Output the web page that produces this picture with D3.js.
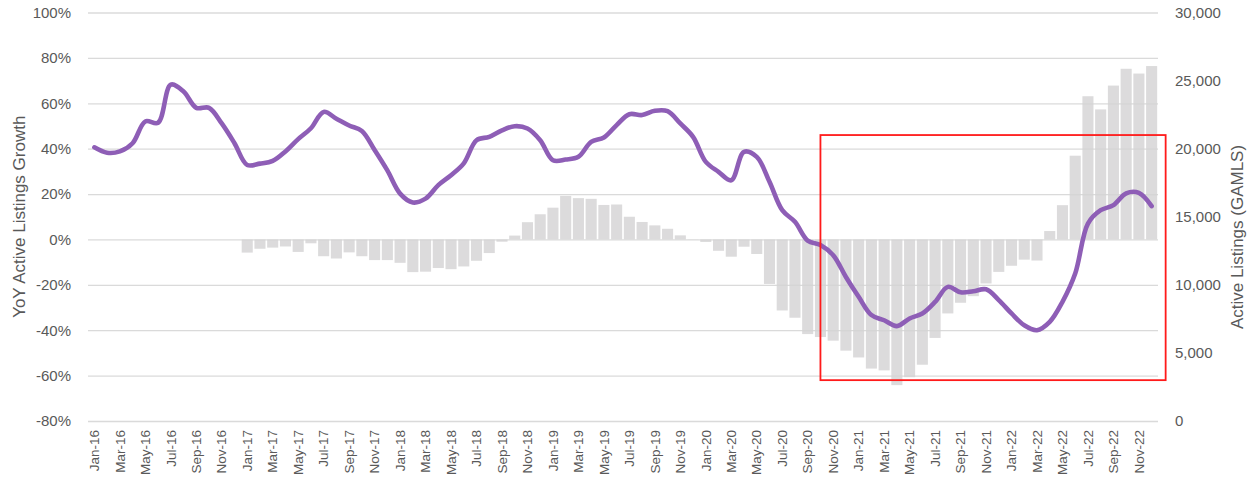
<!DOCTYPE html>
<html>
<head>
<meta charset="utf-8">
<script src="https://cdn.jsdelivr.net/npm/d3@7"></script>
<style>
  html, body { margin: 0; padding: 0; background: #fff; }
  svg text { font-family: "Liberation Sans", Arial, sans-serif; fill: #595959; }
</style>
</head>
<body>
<svg id="chart" width="1248" height="478"></svg>
<script>
// Monthly categories, Jan-16 .. Dec-22
const monthNames = ["Jan","Feb","Mar","Apr","May","Jun","Jul","Aug","Sep","Oct","Nov","Dec"];
const years = ["16","17","18","19","20","21","22"];
const months = years.flatMap(y => monthNames.map(m => `${m}-${y}`));

// Active listings (GAMLS), right axis
const activeListings = [
  20100, 19700, 19800, 20400, 22000, 21900, 24700, 24200, 23000, 23000, 21850, 20400,
  18800, 18900, 19100, 19800, 20700, 21500, 22700, 22200, 21700, 21300, 19900, 18400,
  16700, 16050, 16330, 17320, 18050, 18920, 20620, 20870, 21350, 21650, 21480, 20620,
  19150, 19200, 19400, 20500, 20820, 21730, 22530, 22470, 22780, 22750, 21850, 20870,
  19030, 18300, 17680, 19770, 19400, 17570, 15480, 14630, 13250, 12920, 12180, 10580,
  9120, 7780, 7400, 6970, 7530, 7900, 8750, 9850, 9450, 9530, 9670, 8880,
  7900, 7030, 6670, 7280, 8750, 10830, 14500, 15480, 15850, 16720, 16750, 15780
];

// YoY active listings growth (%), left axis, Jan-17 .. Dec-22
const yoyMonths = months.slice(12);
const yoyGrowth = [
  -5.8, -4.1, -3.6, -3.1, -5.5, -1.7, -7.4, -8.4, -5.7, -7.4, -9.1, -9.1,
  -10.3, -14.4, -14.2, -12.6, -13.1, -11.9, -9.4, -6.0, -1.0, 1.7, 7.6, 11.1,
  14.0, 19.2, 18.2, 17.9, 15.2, 15.4, 10.0, 7.7, 6.2, 4.7, 1.8, 0.1,
  -1.1, -5.0, -7.6, -3.2, -6.4, -19.6, -31.3, -34.5, -41.7, -43.0, -44.6, -49.0,
  -52.0, -56.9, -57.7, -64.2, -60.7, -55.2, -43.4, -32.6, -27.9, -25.0, -19.4, -14.3,
  -11.6, -8.9, -9.3, 3.7, 15.1, 36.9, 63.1, 57.3, 67.8, 75.2, 73.1, 76.4
];

// Axis ticks
const leftTicks = [-80, -60, -40, -20, 0, 20, 40, 60, 80, 100];
const rightTicks = [0, 5000, 10000, 15000, 20000, 25000, 30000];
const xTickLabels = months.filter((m, i) => i % 2 === 0);

// Highlighted period: Oct-20 through Dec-22, 3,000 to 21,000 listings
const highlightStart = "Oct-20";
const highlightEnd = "Dec-22";
const highlightRange = [3000, 21000];

const svg = d3.select("#chart");
const margin = { top: 12.5, right: 90, bottom: 57, left: 88 };
const W = 1248, H = 478;
const x0 = margin.left, x1 = W - margin.right;
const y0 = H - margin.bottom, y1 = margin.top;

const x = d3.scaleBand().domain(months).range([x0, x1]).paddingInner(0.13).paddingOuter(0.065);
const xc = d => x(d) + x.bandwidth() / 2;
const yL = d3.scaleLinear().domain([-80, 100]).range([y0, y1]);
const yR = d3.scaleLinear().domain([0, 30000]).range([y0, y1]);

// Bars
svg.append("g").selectAll("rect")
  .data(yoyMonths.map((m, i) => ({ m, v: yoyGrowth[i] })))
  .join("rect")
  .attr("x", d => x(d.m))
  .attr("width", x.bandwidth())
  .attr("y", d => yL(Math.max(0, d.v)))
  .attr("height", d => Math.abs(yL(d.v) - yL(0)))
  .attr("fill", "#dcdbdc");

// Gridlines (on top of the bars, lightly)
const grid = svg.append("g")
  .attr("transform", `translate(${x0},0)`)
  .call(d3.axisLeft(yL).tickValues(leftTicks).tickSize(-(x1 - x0)).tickFormat(""));
grid.select(".domain").remove();
grid.selectAll("line").attr("stroke", "#d3d3d3").attr("stroke-width", 1.3).attr("stroke-opacity", 0.85);

// Left axis
const axL = svg.append("g")
  .attr("transform", `translate(${x0 - 14},0)`)
  .call(d3.axisLeft(yL).tickValues(leftTicks).tickSize(0).tickFormat(d => d + "%"));
axL.select(".domain").remove();
axL.selectAll("text").attr("font-size", 15).attr("fill", "#595959");

// Right axis
const axR = svg.append("g")
  .attr("transform", `translate(${x1 + 14},0)`)
  .call(d3.axisRight(yR).tickValues(rightTicks).tickSize(0).tickFormat(d3.format(",")));
axR.select(".domain").remove();
axR.selectAll("text").attr("font-size", 15).attr("fill", "#595959");

// Bottom axis (every other month)
const axB = svg.append("g")
  .attr("transform", `translate(0,${y0})`)
  .call(d3.axisBottom(x).tickValues(xTickLabels).tickSize(0));
axB.select(".domain").remove();
axB.selectAll("text")
  .attr("font-size", 13.5)
  .attr("fill", "#595959")
  .attr("text-anchor", "end")
  .attr("transform", "rotate(-90)")
  .attr("x", -9)
  .attr("y", 0)
  .attr("dy", "0.35em");

// Axis titles
svg.append("text")
  .attr("transform", `translate(25,${(y0 + y1) / 2}) rotate(-90)`)
  .attr("text-anchor", "middle")
  .attr("font-size", 17)
  .text("YoY Active Listings Growth");

svg.append("text")
  .attr("transform", `translate(1243,237) rotate(-90)`)
  .attr("text-anchor", "middle")
  .attr("font-size", 17)
  .text("Active Listings (GAMLS)");

// Active listings line
const line = d3.line()
  .x((d, i) => xc(months[i]))
  .y(d => yR(d))
  .curve(d3.curveCatmullRom.alpha(0.5));
svg.append("path")
  .datum(activeListings)
  .attr("fill", "none")
  .attr("stroke", "#8e5eb6")
  .attr("stroke-width", 4.6)
  .attr("stroke-linejoin", "round")
  .attr("stroke-linecap", "round")
  .attr("d", line);

// Highlight box
const hx0 = xc(highlightStart);
const hx1 = xc(highlightEnd) + x.step() * 1.1;
svg.append("rect")
  .attr("x", hx0)
  .attr("y", yR(highlightRange[1]))
  .attr("width", hx1 - hx0)
  .attr("height", yR(highlightRange[0]) - yR(highlightRange[1]))
  .attr("fill", "none")
  .attr("stroke", "#ff1a1a")
  .attr("stroke-width", 1.8);
</script>
</body>
</html>
